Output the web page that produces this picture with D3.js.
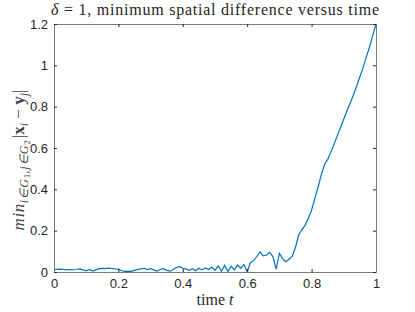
<!DOCTYPE html>
<html>
<head>
<meta charset="utf-8">
<script src="https://cdn.jsdelivr.net/npm/d3@7"></script>
<style>
  body { margin: 0; background: #fff; }
  svg { display: block; }
  .tick text { font-family: "Liberation Sans", Arial, sans-serif; font-size: 13px; fill: #262626; }
  .serif { font-family: "Liberation Serif", "Times New Roman", serif; fill: #262626; }
</style>
</head>
<body>
<svg id="chart"></svg>
<script>
const W = 415, H = 312;
const margin = {top: 24, right: 39, bottom: 40, left: 54};

// time samples t and min spatial difference
const timeT = [0.00,0.01,0.02,0.03,0.04,0.05,0.06,0.07,0.08,0.09,
  0.10,0.11,0.12,0.13,0.14,0.15,0.16,0.17,0.18,0.19,
  0.20,0.21,0.22,0.23,0.24,0.25,0.26,0.27,0.28,0.29,
  0.30,0.31,0.32,0.33,0.34,0.35,0.36,0.37,0.38,0.39,
  0.40,0.41,0.42,0.43,0.44,0.45,0.46,0.47,0.48,0.49,
  0.50,0.51,0.52,0.53,0.54,0.55,0.56,0.57,0.58,0.59,
  0.60,0.61,0.62,0.63,0.64,0.65,0.66,0.67,0.68,0.69,
  0.70,0.71,0.72,0.73,0.74,0.75,0.76,0.77,0.78,0.79,
  0.80,0.81,0.82,0.83,0.84,0.85,0.86,0.87,0.88,0.89,
  0.90,0.91,0.92,0.93,0.94,0.95,0.96,0.97,0.98,0.99,1.00];
const minDiff = [0.012,0.013,0.014,0.012,0.010,0.012,0.011,0.012,0.015,0.010,
  0.006,0.012,0.004,0.010,0.016,0.018,0.016,0.019,0.017,0.015,
  0.014,0.006,0.003,0.004,0.003,0.008,0.013,0.015,0.018,0.012,
  0.016,0.010,0.004,0.012,0.016,0.008,0.004,0.012,0.022,0.026,
  0.018,0.014,0.008,0.016,0.006,0.018,0.010,0.020,0.012,0.024,
  0.008,0.030,0.004,0.032,0.002,0.028,0.010,0.034,0.018,0.036,
  0.002,0.045,0.055,0.075,0.098,0.078,0.082,0.095,0.074,0.014,
  0.090,0.065,0.050,0.062,0.078,0.120,0.180,0.205,0.227,0.260,
  0.300,0.355,0.410,0.470,0.520,0.545,0.580,0.620,0.660,0.700,
  0.740,0.780,0.818,0.858,0.900,0.945,0.990,1.040,1.090,1.145,1.200];

const xTicks = [0, 0.2, 0.4, 0.6, 0.8, 1];
const xTickLabels = ["0", "0.2", "0.4", "0.6", "0.8", "1"];
const yTicks = [0, 0.2, 0.4, 0.6, 0.8, 1, 1.2];
const yTickLabels = ["0", "0.2", "0.4", "0.6", "0.8", "1", "1.2"];

const svg = d3.select("#chart").attr("width", W).attr("height", H);
const iw = W - margin.left - margin.right;
const ih = H - margin.top - margin.bottom;

const x = d3.scaleLinear().domain([0, 1]).range([0, iw]);
const y = d3.scaleLinear().domain([0, 1.2]).range([ih, 0]);

const g = svg.append("g").attr("transform", `translate(${margin.left},${margin.top})`);

const data = timeT.map((t, i) => ({t: t, v: minDiff[i]}));

g.append("path")
  .datum(data)
  .attr("fill", "none")
  .attr("stroke", "#0072BD")
  .attr("stroke-width", 1.2)
  .attr("d", d3.line().x(d => x(d.t)).y(d => y(d.v)));

function styleAxis(sel) {
  sel.select(".domain").attr("stroke", "#7a7a7a").attr("stroke-width", 1);
  sel.selectAll(".tick line").attr("stroke", "#262626");
}

g.append("g").attr("transform", `translate(0,${ih})`)
  .call(d3.axisBottom(x).tickValues(xTicks).tickFormat((d, i) => xTickLabels[i])
    .tickSizeInner(-3).tickSizeOuter(0).tickPadding(7))
  .call(styleAxis);
g.append("g")
  .call(d3.axisTop(x).tickValues(xTicks).tickFormat("").tickSizeInner(-3).tickSizeOuter(0))
  .call(styleAxis);
g.append("g")
  .call(d3.axisLeft(y).tickValues(yTicks).tickFormat((d, i) => yTickLabels[i])
    .tickSizeInner(-3).tickSizeOuter(0).tickPadding(6))
  .call(styleAxis);
g.append("g").attr("transform", `translate(${iw},0)`)
  .call(d3.axisRight(y).tickValues(yTicks).tickFormat("").tickSizeInner(-3).tickSizeOuter(0))
  .call(styleAxis);
g.selectAll(".domain").attr("fill", "none");

// title
const title = svg.append("text").attr("class", "serif")
  .attr("x", margin.left + iw / 2).attr("y", 15)
  .attr("text-anchor", "middle").style("font-size", "16px")
  .attr("textLength", 328).attr("lengthAdjust", "spacing");
title.append("tspan").style("font-style", "italic").text("δ");
title.append("tspan").text(" = 1, minimum spatial difference versus time");

// x label
const xl = svg.append("text").attr("class", "serif")
  .attr("x", margin.left + iw / 2).attr("y", 305)
  .attr("text-anchor", "middle").style("font-size", "16px");
xl.append("tspan").text("time ");
xl.append("tspan").style("font-style", "italic").text("t");

// y label
const yl = svg.append("text").attr("class", "serif")
  .attr("transform", `translate(24,160) rotate(-90)`)
  .attr("text-anchor", "middle").style("font-size", "17px").style("fill", "#444");
yl.append("tspan").style("font-style", "italic").style("letter-spacing", "0.6px").text("min");
yl.append("tspan").style("font-style", "italic").style("font-size", "12px").style("letter-spacing", "1px").attr("dy", 4).text("i∈G");
yl.append("tspan").style("font-size", "9px").attr("dy", 2).text("1");
yl.append("tspan").style("font-style", "italic").style("font-size", "12px").style("letter-spacing", "1px").attr("dy", -2).text(",j∈G");
yl.append("tspan").style("font-size", "9px").attr("dy", 2).text("2");
yl.append("tspan").attr("dy", -6).attr("dx", 2).text("|");
yl.append("tspan").style("font-weight", "bold").text("x");
yl.append("tspan").style("font-style", "italic").style("font-size", "12px").attr("dy", 4).text("i");
yl.append("tspan").attr("dy", -4).text(" − ");
yl.append("tspan").style("font-weight", "bold").text("y");
yl.append("tspan").style("font-style", "italic").style("font-size", "12px").attr("dy", 4).text("j");
yl.append("tspan").attr("dy", -4).text("|");
</script>
</body>
</html>
